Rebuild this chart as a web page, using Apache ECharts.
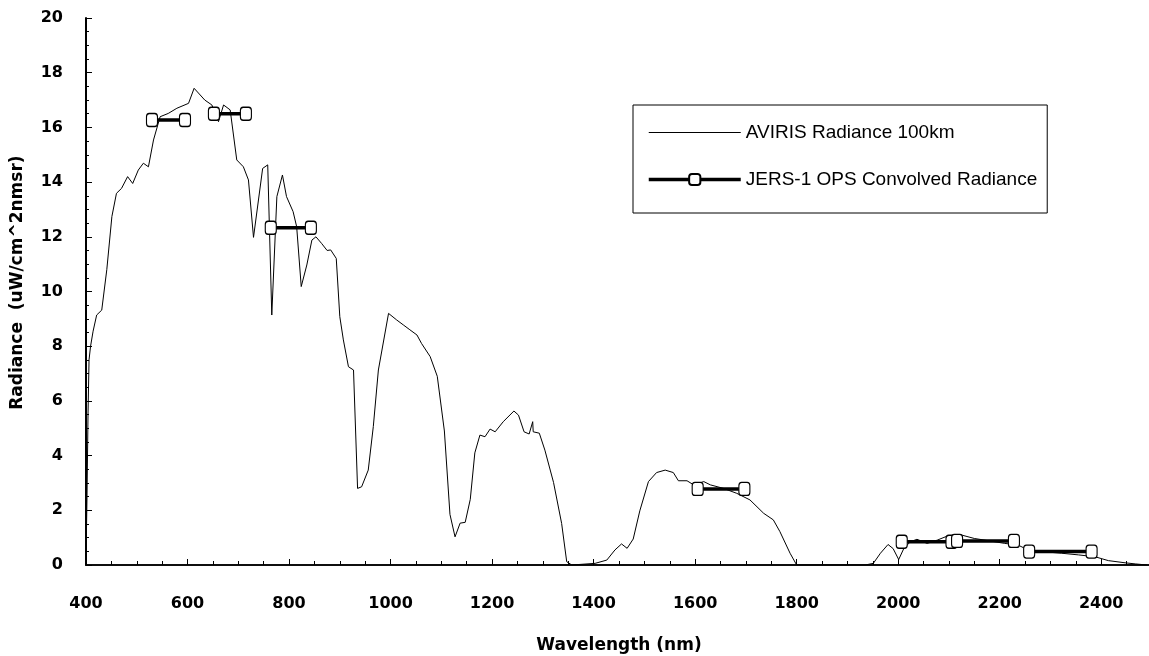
<!DOCTYPE html>
<html>
<head>
<meta charset="utf-8">
<script src="https://cdn.jsdelivr.net/npm/echarts@6/dist/echarts.min.js"></script>
<style>html,body{margin:0;padding:0;background:#fff}#c{width:1149px;height:656px}</style>
</head>
<body>
<div id="c"></div>
<script>
// AVIRIS radiance curve (wavelength nm, radiance)
const avirisWl = [400,402,404,406,409,414,421,431,441,451,460,470,482,492,503,513,523,533,546,562,579,602,613,634,648,661,671,684,697,710,720,730,748,758,766,776,787,795,808,815,824,835,845,853,864,875,882,893,900,907,917,927,935,943,956,966,976,996,1012,1025,1038,1052,1061,1078,1092,1106,1117,1127,1137,1147,1157,1166,1176,1186,1196,1206,1222,1243,1252,1263,1273,1280,1281,1293,1304,1321,1337,1347,1357,1403,1426,1442,1455,1466,1478,1491,1508,1524,1541,1557,1567,1584,1597,1617,1630,1656,1682,1708,1735,1754,1767,1787,1800,1935,1951,1965,1980,1990,2001,2011,2024,2037,2057,2077,2097,2124,2150,2177,2210,2236,2256,2283,2322,2355,2388,2414,2447,2467,2490];
const avirisVal = [0.2,2.5,5.5,7.5,8.0,8.55,9.14,9.32,10.8,12.74,13.59,13.77,14.2,13.95,14.44,14.69,14.56,15.54,16.39,16.51,16.7,16.88,17.43,17.0,16.82,16.21,16.82,16.64,14.81,14.56,14.08,11.98,14.5,14.63,9.14,13.47,14.26,13.47,12.92,12.37,10.18,10.97,11.88,12.0,11.76,11.5,11.52,11.21,9.08,8.23,7.25,7.13,2.8,2.86,3.47,5.06,7.13,9.2,8.96,8.78,8.6,8.41,8.1,7.62,6.9,4.9,1.85,1.03,1.53,1.56,2.4,4.1,4.75,4.69,4.97,4.87,5.24,5.63,5.48,4.87,4.79,5.24,4.87,4.82,4.2,3.02,1.52,0.12,0,0.06,0.18,0.55,0.77,0.61,0.95,1.98,3.05,3.38,3.47,3.38,3.08,3.08,2.93,3.05,2.93,2.8,2.62,2.38,1.89,1.65,1.22,0.43,0,0,0.06,0.43,0.75,0.6,0.2,0.6,0.85,0.94,0.79,0.91,1.06,1.1,0.97,0.89,0.79,0.73,0.55,0.49,0.43,0.37,0.3,0.16,0.08,0.04,0];

// JERS-1 OPS convolved radiance per band
const jersStart = [530,652,764,1605,2007,2116,2258];
const jersEnd   = [595,715,843,1697,2105,2228,2381];
const jersVal   = [16.27,16.5,12.33,2.78,0.85,0.88,0.49];

const xTicks = {min:400, max:2500, interval:200};
const yTicks = {min:0, max:20, interval:2};

const avirisData = avirisWl.map((w,i)=>[w, avirisVal[i]]);
const jersData = [];
jersStart.forEach((s,i)=>{
  if (i>0) jersData.push([ (jersEnd[i-1]+s)/2, null ]);
  jersData.push([s, jersVal[i]]);
  jersData.push([jersEnd[i], jersVal[i]]);
});

const axisFont = {fontFamily:'DejaVu Sans', fontWeight:'bold', fontSize:16, color:'#000'};
const chart = echarts.init(document.getElementById('c'));
chart.setOption({
  backgroundColor:'#fff',
  animation:false,
  grid:{left:86, right:-3, top:18, bottom:91, outerBoundsMode:'none', containLabel:false},
  legend:{
    orient:'vertical', left:633, top:105,
    padding:[18,10,24,14],
    itemGap:28, itemWidth:92, itemHeight:14,
    borderColor:'#000', borderWidth:1,
    symbolKeepAspect:true,
    textStyle:{fontFamily:'Liberation Sans', fontSize:19, color:'#000'},
    data:[
      {name:'AVIRIS Radiance 100km', icon:'path://M0,0h92v1h-92z', itemStyle:{color:'#000'}},
      {name:'JERS-1 OPS Convolved Radiance', lineStyle:{width:3.5, color:'#000'}}
    ]
  },
  xAxis:[{
    type:'value', min:xTicks.min, max:xTicks.max, interval:xTicks.interval,
    name:'Wavelength (nm)', nameLocation:'middle', nameGap:72,
    nameTextStyle:Object.assign({}, axisFont, {fontSize:17}),
    axisLine:{show:true, onZero:false, lineStyle:{color:'#000', width:1.5}},
    axisTick:{show:true, inside:true, length:6, lineStyle:{color:'#000', width:1}},
    minorTick:{show:true, splitNumber:4, length:4, lineStyle:{color:'#000', width:1}},
    splitLine:{show:false},
    axisLabel:Object.assign({margin:31, showMaxLabel:false, formatter:v=>String(v)}, axisFont)
  },{
    type:'value', position:'top', min:xTicks.min, max:xTicks.max,
    axisLine:{show:true, lineStyle:{color:'#000', width:1.5}},
    axisTick:{show:false}, axisLabel:{show:false}, splitLine:{show:false}
  }],
  yAxis:{
    type:'value', min:yTicks.min, max:yTicks.max, interval:yTicks.interval,
    name:'   Radiance  (uW/cm^2nmsr)', nameLocation:'middle', nameGap:60,
    nameTextStyle:Object.assign({}, axisFont, {fontSize:17}),
    axisLine:{show:true, lineStyle:{color:'#000', width:2}},
    axisTick:{show:true, inside:true, length:6, lineStyle:{color:'#000', width:1}},
    minorTick:{show:true, splitNumber:4, length:3, lineStyle:{color:'#000', width:1}},
    splitLine:{show:false},
    axisLabel:Object.assign({margin:23, formatter:v=>String(v)}, axisFont)
  },
  series:[{
    name:'AVIRIS Radiance 100km', type:'line', symbol:'none',
    data:avirisData, lineStyle:{color:'#000', width:1}, itemStyle:{color:'#000'}, z:2
  },{
    name:'JERS-1 OPS Convolved Radiance', type:'line',
    symbol:'roundRect', symbolSize:[11,13], showAllSymbol:true,
    data:jersData, connectNulls:false,
    lineStyle:{color:'#000', width:3.5},
    itemStyle:{color:'#fff', borderColor:'#000', borderWidth:1.2},
    z:3
  }]
});
</script>
</body>
</html>
